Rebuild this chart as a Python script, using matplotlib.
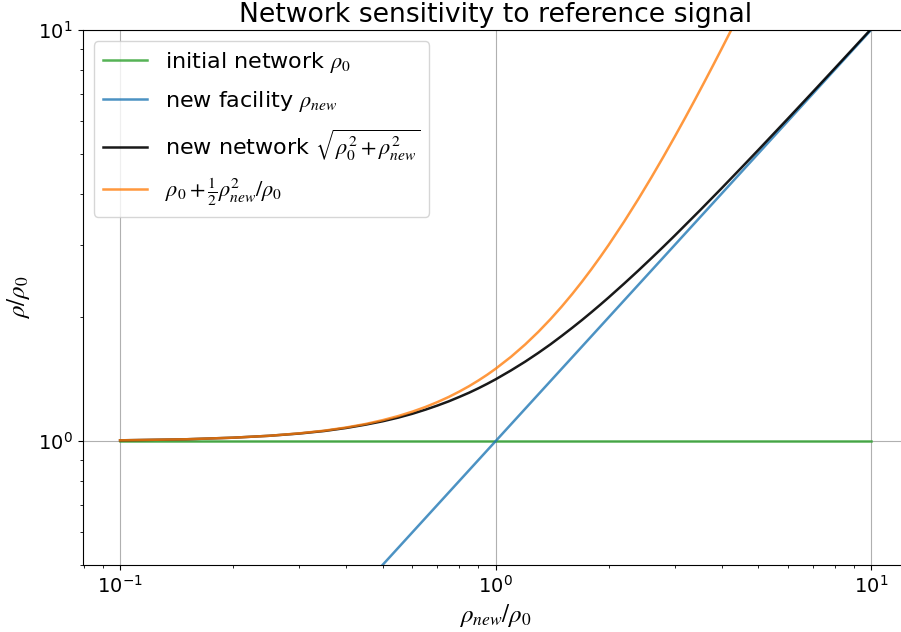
import matplotlib
matplotlib.use("Agg")
import matplotlib.pyplot as plt
from matplotlib.ticker import NullFormatter

plt.rcParams["mathtext.fontset"] = "stix"
plt.rcParams["font.family"] = "DejaVu Sans"

# rho_new / rho_0 sample points
x_vals = [0.1, 0.15, 0.2, 0.25, 0.3, 0.35, 0.4, 0.45, 0.5, 0.55, 0.6, 0.65,
          0.7, 0.75, 0.8, 0.85, 0.9, 0.95, 1.0, 1.1, 1.2, 1.3, 1.4, 1.5, 1.6,
          1.7, 1.8, 1.9, 2.0, 2.2, 2.4, 2.6, 2.8, 3.0, 3.5, 4.0, 4.5, 5.0,
          6.0, 7.0, 8.0, 9.0, 10.0]
initial_vals = [1.0] * len(x_vals)
facility_vals = [0.1, 0.15, 0.2, 0.25, 0.3, 0.35, 0.4, 0.45, 0.5, 0.55, 0.6,
                 0.65, 0.7, 0.75, 0.8, 0.85, 0.9, 0.95, 1.0, 1.1, 1.2, 1.3,
                 1.4, 1.5, 1.6, 1.7, 1.8, 1.9, 2.0, 2.2, 2.4, 2.6, 2.8, 3.0,
                 3.5, 4.0, 4.5, 5.0, 6.0, 7.0, 8.0, 9.0, 10.0]
network_vals = [1.005, 1.011, 1.020, 1.031, 1.044, 1.059, 1.077, 1.097, 1.118,
                1.141, 1.166, 1.193, 1.221, 1.250, 1.281, 1.312, 1.345, 1.379,
                1.414, 1.487, 1.562, 1.640, 1.720, 1.803, 1.887, 1.972, 2.059,
                2.147, 2.236, 2.417, 2.600, 2.786, 2.973, 3.162, 3.640, 4.123,
                4.610, 5.099, 6.083, 7.071, 8.062, 9.055, 10.050]
approx_x = [0.1, 0.15, 0.2, 0.25, 0.3, 0.35, 0.4, 0.45, 0.5, 0.55, 0.6, 0.65,
            0.7, 0.75, 0.8, 0.85, 0.9, 0.95, 1.0, 1.1, 1.2, 1.3, 1.4, 1.5, 1.6,
            1.7, 1.8, 1.9, 2.0, 2.2, 2.4, 2.6, 2.8, 3.0, 3.2, 3.4, 3.6, 3.8,
            4.0, 4.2, 4.5]
approx_vals = [1.005, 1.011, 1.020, 1.031, 1.045, 1.061, 1.080, 1.101, 1.125,
               1.151, 1.180, 1.211, 1.245, 1.281, 1.320, 1.361, 1.405, 1.451,
               1.500, 1.605, 1.720, 1.845, 1.980, 2.125, 2.280, 2.445, 2.620,
               2.805, 3.000, 3.420, 3.880, 4.380, 4.920, 5.500, 6.120, 6.780,
               7.480, 8.220, 9.000, 9.820, 11.125]

fig = plt.figure(figsize=(9.01, 6.32), dpi=100)
ax = fig.add_axes([0.0916, 0.106, 0.9168, 0.8465])

ax.plot(x_vals, initial_vals, color="tab:green", alpha=0.8, lw=1.8,
        label=r"initial network $\rho_0$")
ax.plot(x_vals, facility_vals, color="tab:blue", alpha=0.8, lw=1.8,
        label=r"new facility $\rho_{new}$")
ax.plot(x_vals, network_vals, color="black", alpha=0.9, lw=1.8,
        label=r"new network $\sqrt{\rho_0^2+\rho_{new}^2}$")
ax.plot(approx_x, approx_vals, color="tab:orange", alpha=0.8, lw=1.8,
        label=r"$\rho_0+\frac{1}{2}\rho_{new}^2/\rho_0$")

ax.set_xscale("log")
ax.set_yscale("log")
ax.set_xlim(10 ** -1.1, 10 ** 1.1)
ax.set_ylim(0.5, 10)
ax.yaxis.set_minor_formatter(NullFormatter())
ax.xaxis.set_minor_formatter(NullFormatter())
ax.tick_params(labelsize=14)
ax.grid(True, which="major", color="#b0b0b0", lw=0.8)

ax.set_title("Network sensitivity to reference signal", fontsize=19.2)
ax.set_xlabel(r"$\rho_{new}/\rho_0$", fontsize=18)
ax.set_ylabel(r"$\rho/\rho_0$", fontsize=18)
ax.legend(loc="upper left", fontsize=16, labelspacing=0.62)

fig.savefig("out.png", dpi=100)
